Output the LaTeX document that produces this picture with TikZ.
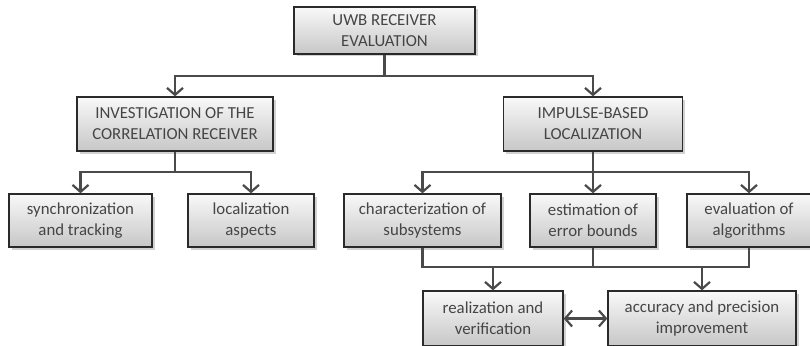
\documentclass[tikz,border=0pt]{standalone}
\usepackage{fontspec}
\setmainfont{Carlito}
\usetikzlibrary{arrows.meta,shadows}
\definecolor{txt}{HTML}{454545}
\definecolor{edge}{HTML}{2A2A2A}
\definecolor{conncol}{HTML}{4A4A4A}
\begin{document}
\begin{tikzpicture}[x=1pt,y=-1pt,
  box/.style={rectangle, draw=edge, line width=1.3pt, top color=gray!5, bottom color=gray!44,
    text=txt, align=center, inner sep=0pt,
    font=\fontsize{16.8}{21}\selectfont,
    drop shadow={shadow xshift=2.5pt, shadow yshift=-2.5pt, opacity=0.35, fill=gray}},
  conn/.style={draw=conncol, line width=2.7pt},
  tip/.style={Straight Barb[length=7pt,width=16pt,line width=2.2pt]},
  arr/.style={conn, -{Straight Barb[length=7pt,width=16pt,line width=2.2pt]}},
  darr/.style={conn, {Straight Barb[length=7pt,width=16pt,line width=2.2pt]}-{Straight Barb[length=7pt,width=16pt,line width=2.2pt]}}
]
\useasboundingbox (0,0) rectangle (810,345);
\fill[white] (0,0) rectangle (810,345);

\node[box, minimum width=181pt, minimum height=47pt] (top) at (384.5,30.5) {UWB RECEIVER\\EVALUATION};
\node[box, minimum width=196pt, minimum height=54pt] (inv) at (175,124) {INVESTIGATION OF THE\\CORRELATION RECEIVER};
\node[box, minimum width=179pt, minimum height=54pt] (imp) at (593,124) {IMPULSE-BASED\\LOCALIZATION};
\node[box, minimum width=143pt, minimum height=53pt] (sync) at (80.5,220.5) {synchronization\\and tracking};
\node[box, minimum width=126pt, minimum height=53pt] (loc) at (251,220.5) {localization\\aspects};
\node[box, minimum width=157pt, minimum height=53pt] (char) at (422.5,220.5) {characterization of\\subsystems};
\node[box, minimum width=126pt, minimum height=53pt] (est) at (593,220.5) {estimation of\\error bounds};
\node[box, minimum width=124pt, minimum height=53pt] (eval) at (749,220.5) {evaluation of\\algorithms};
\node[box, minimum width=140pt, minimum height=55pt] (real) at (493,318.5) {realization and\\verification};
\node[box, minimum width=188pt, minimum height=55pt] (acc) at (702,318.5) {accuracy and precision\\improvement};

\coordinate (j1) at (384.5,76);
\coordinate (j2) at (175,172);
\coordinate (j3) at (593,172);
\coordinate (j4) at (593,267);

\draw[conn] (top) -- (j1);
\draw[arr] (j1) -| (inv);
\draw[arr] (j1) -| (imp);
\draw[conn] (inv) -- (j2);
\draw[arr] (j2) -| (sync);
\draw[arr] (j2) -| (loc);
\draw[conn] (imp) -- (j3);
\draw[arr] (j3) -| (char);
\draw[arr] (j3) -- (est);
\draw[arr] (j3) -| (eval);
\draw[conn] (char.south) -- (char.south |- j4) -- (eval.south |- j4) -- (eval.south);
\draw[conn] (est) -- (j4);
\draw[arr] (real.north |- j4) -- (real);
\draw[arr] (acc.north |- j4) -- (acc);
\draw[darr] (real) -- (acc);
\end{tikzpicture}
\end{document}
